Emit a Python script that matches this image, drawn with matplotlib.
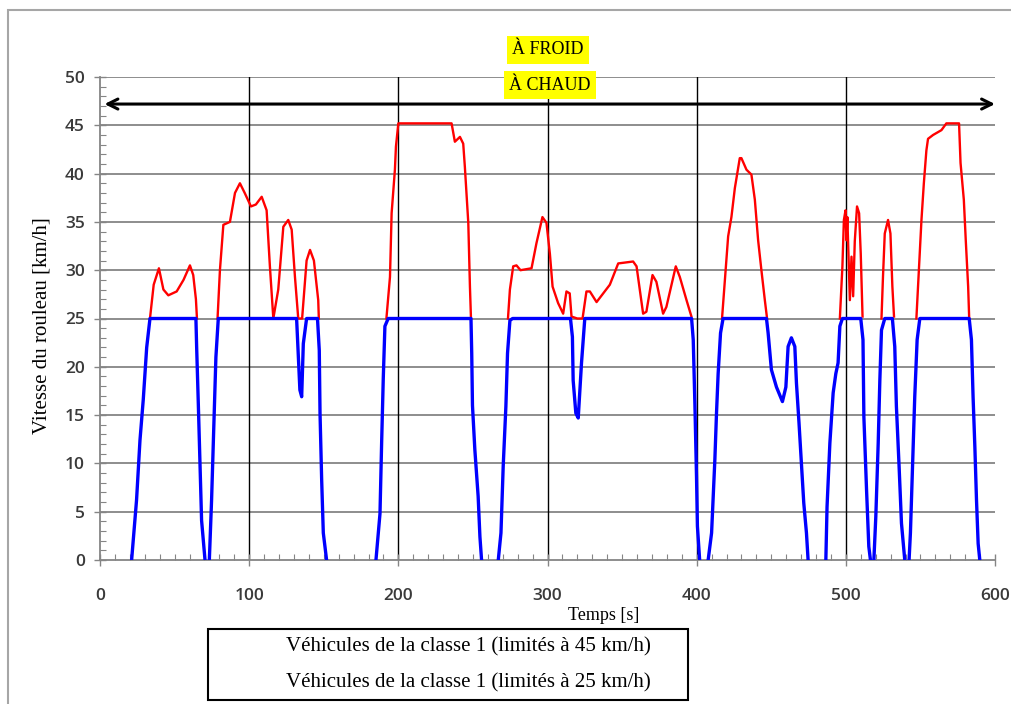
import numpy as np
import matplotlib.pyplot as plt
from matplotlib.patches import Rectangle
from matplotlib.ticker import MultipleLocator

nan = np.nan

# Class 1 vehicles limited to 45 km/h (only the part above 25 km/h is visible)
red_t = [33.5, 36.0, 39.5, 42.5, 45.8, 51.4, 56.0, 60.3, 62.5, 64.3, 65.0, nan,
         78.8, 80.4, 82.7, 87.1, 90.5, 93.8, 97.0, 101.2, 104.5, 108.4, 111.7, 113.9, 116.2,
         119.5, 122.9, 126.2, 128.5, 130.7, 132.9, 135.5, 138.5, 140.8, 143.4, 146.3, 146.7, nan,
         192.0, 194.4, 195.5, 197.7, 198.4, 200.0, 235.7, 237.9, 241.3, 243.5, 244.6,
         246.9, 248.0, 248.7, nan,
         273.5, 274.8, 277.0, 279.2, 281.9, 289.3, 292.6, 296.6, 299.3, 301.6, 303.4,
         307.1, 310.5, 312.7, 314.9, 316.1, 320.0, 323.5, 326.1, 328.4, 332.9, 341.8,
         347.4, 357.4, 359.7, 364.1, 366.3, 370.4, 373.0, 377.5, 379.7, 386.0, 388.7,
         393.2, 396.5, nan,
         417.0, 418.9, 421.1, 423.3, 425.6, 428.9, 430.0, 433.4, 436.7, 439.0, 441.2,
         443.4, 445.7, 447.2, nan,
         496.0, 497.7, 498.7, 499.8, 500.4, 501.0, 501.8, 502.7, 503.8, 504.9, 506.0,
         507.5, 508.9, 510.0, 511.2, nan,
         523.9, 524.9, 526.1, 528.3, 529.9, 531.2, 532.3, nan,
         547.3, 548.4, 550.7, 552.3, 554.0, 555.1, 558.5, 564.1, 567.4, 575.9, 576.9,
         579.1, 580.4, 582.0, 582.7]
red_v = [25.0, 28.5, 30.2, 28.0, 27.4, 27.8, 29.0, 30.5, 29.5, 27.0, 25.0, nan,
         25.0, 30.0, 34.7, 35.0, 38.0, 39.0, 38.0, 36.6, 36.8, 37.6, 36.2, 30.4, 25.0,
         28.0, 34.5, 35.2, 34.2, 29.3, 25.0, 25.0, 31.0, 32.1, 31.0, 26.9, 25.0, nan,
         25.0, 29.3, 35.9, 40.4, 42.8, 45.2, 45.2, 43.3, 43.8, 43.1, 40.7,
         34.9, 28.3, 25.0, nan,
         25.0, 28.0, 30.4, 30.5, 30.0, 30.2, 32.8, 35.5, 34.9, 31.7, 28.3,
         26.6, 25.5, 27.8, 27.6, 25.2, 25.0, 25.0, 27.8, 27.8, 26.7, 28.5,
         30.7, 30.9, 30.4, 25.5, 25.7, 29.5, 28.8, 25.5, 26.2, 30.4, 29.3,
         26.9, 25.2, nan,
         25.0, 29.0, 33.5, 35.5, 38.5, 41.6, 41.6, 40.4, 39.9, 37.3, 33.1,
         30.0, 26.9, 25.0, nan,
         25.0, 30.4, 35.2, 36.2, 33.1, 35.5, 31.4, 26.9, 31.4, 27.3, 33.0,
         36.6, 35.9, 31.7, 25.2, nan,
         25.0, 29.3, 33.8, 35.2, 33.8, 28.3, 25.2, nan,
         25.0, 28.3, 35.2, 39.0, 42.4, 43.6, 44.0, 44.5, 45.2, 45.2, 41.1,
         37.3, 33.1, 28.3, 25.0]

# Class 1 vehicles limited to 25 km/h (stops at 0 km/h are left out)
blue_t = [21.2, 24.5, 26.8, 29.0, 31.3, 33.5, 64.3, 64.8, 65.9, 67.0, 68.1, 70.4, nan,
          73.3, 74.8, 76.4, 77.7, 79.3, 131.8, 132.9, 134.0, 135.2, 136.3, 138.5, 145.8,
          147.0, 147.5, 148.6, 149.7, 151.9, nan,
          185.0, 187.7, 188.8, 189.9, 191.0, 193.2,
          248.7, 249.2, 249.7, 251.3, 253.5, 254.7, 255.8, nan,
          267.0, 268.8, 270.3, 272.1,
          273.2, 274.8, 276.6, 315.4, 316.7, 317.2, 319.0, 320.6, 322.8, 325.0, 396.6,
          397.7, 398.8, 399.9, 400.5, 402.0, nan,
          407.7, 410.0, 411.1, 412.2, 413.3, 414.4,
          416.0, 417.7, 446.8, 447.9, 450.1, 453.5, 457.5, 459.8, 461.3, 463.5, 465.8,
          466.9, 468.6, 470.2, 471.8, 473.6, 474.7, nan,
          486.6, 487.4, 489.3, 491.5, 493.3,
          494.8, 496.0, 497.7, 510.0, 511.5, 512.1, 513.9, 515.4, 516.5, nan,
          518.8, 520.1, 521.7, 522.8, 523.9, 526.1, 531.2, 532.8, 533.9, 535.7, 537.3,
          539.5, nan,
          542.4, 543.3, 544.7, 546.2, 547.8, 549.6, 582.7, 584.2, 585.3, 586.5, 587.6,
          588.7, 589.8]
blue_v = [0.0, 6.2, 12.4, 16.6, 22.0, 25.0, 25.0, 22.0, 16.2, 10.0, 4.1, 0.0, nan,
          0.0, 6.2, 14.2, 21.0, 25.0, 25.0, 21.4, 17.6, 16.9, 22.4, 25.0, 25.0,
          21.7, 15.2, 8.3, 2.8, 0.0, nan,
          0.0, 4.8, 12.1, 18.8, 24.2, 25.0,
          25.0, 21.4, 16.0, 11.4, 6.6, 2.4, 0.0, nan,
          0.0, 2.8, 9.7, 15.9,
          21.4, 24.8, 25.0, 25.0, 23.1, 18.6, 15.2, 14.7, 20.4, 25.0, 25.0,
          22.8, 16.2, 8.6, 3.5, 0.0, nan,
          0.0, 2.8, 6.6, 10.4, 15.2, 19.3,
          23.5, 25.0, 25.0, 23.5, 19.7, 17.9, 16.4, 17.9, 22.1, 23.0, 22.1,
          18.3, 14.2, 10.0, 5.9, 2.8, 0.0, nan,
          0.0, 5.5, 12.1, 17.3, 19.3,
          20.4, 24.2, 25.0, 25.0, 22.8, 14.8, 7.2, 1.4, 0.0, nan,
          0.0, 4.5, 12.1, 18.6, 23.8, 25.0, 25.0, 22.1, 15.9, 9.7, 3.8,
          0.0, nan,
          0.0, 2.8, 9.7, 16.9, 22.8, 25.0, 25.0, 22.8, 16.9, 11.7, 6.2,
          1.7, 0.0]

x_ticks = [0, 100, 200, 300, 400, 500, 600]
y_ticks = [0, 5, 10, 15, 20, 25, 30, 35, 40, 45, 50]
phase_lines = [100, 200, 300, 400, 500]
legend_labels = ['Véhicules de la classe 1 (limités à 45 km/h)',
                 'Véhicules de la classe 1 (limités à 25 km/h)']

SERIF = ['Liberation Serif', 'DejaVu Serif']
SANS = ['Open Sans', 'DejaVu Sans']

fig = plt.figure(figsize=(10.11, 7.04), dpi=100)
fig.patch.set_facecolor('white')

# outer chart border
fig.patches.append(Rectangle((8 / 1011, -0.01), 1.1, (704 - 10) / 704 + 0.01,
                             transform=fig.transFigure, fill=False,
                             edgecolor='#a6a6a6', linewidth=1.5))

ax = fig.add_axes([100 / 1011, (704 - 560) / 704, 895 / 1011, 483 / 704])
ax.set_xlim(0, 600)
ax.set_ylim(0, 50)

for y in y_ticks[1:]:
    ax.axhline(y, color='#858585', linewidth=1.3, zorder=1)
for x in phase_lines:
    ax.axvline(x, color='black', linewidth=1.0, zorder=1)

ax.plot(red_t, red_v, color='#ff0000', linewidth=1.7, zorder=3)
ax.plot(blue_t, blue_v, color='#0000ff', linewidth=2.4, zorder=4)

ax.annotate('', xy=(600, 47.2), xytext=(3, 47.2),
            arrowprops=dict(arrowstyle='<->', color='black', linewidth=2.2,
                            mutation_scale=18, shrinkA=0, shrinkB=0), zorder=5)

for s in ['top', 'right']:
    ax.spines[s].set_visible(False)
for s in ['left', 'bottom']:
    ax.spines[s].set_color('#858585')
    ax.spines[s].set_linewidth(1.3)

ax.set_xticks(x_ticks)
ax.set_yticks(y_ticks)
ax.xaxis.set_minor_locator(MultipleLocator(10))
ax.yaxis.set_minor_locator(MultipleLocator(1))
ax.tick_params(which='major', direction='inout', length=8, width=1.0,
               color='#858585', labelcolor='#3a3a3a', labelsize=12.5)
ax.tick_params(which='minor', direction='in', length=4, width=0.8, color='#858585')
ax.tick_params(axis='x', pad=16)
ax.tick_params(axis='y', pad=7)
for lab in ax.get_xticklabels() + ax.get_yticklabels():
    lab.set_family(SANS)
    lab.set_fontweight('semibold')

fig.text(42 / 1011, 1 - 326 / 704, 'Vitesse du rouleau [km/h]', family=SERIF,
         fontsize=15, rotation=90, ha='center', va='center')
fig.text(604 / 1011, 1 - 616 / 704, 'Temps [s]', family=SERIF, fontsize=13,
         ha='center', va='center')

# phase labels
fig.text(548 / 1011, 1 - 50 / 704, 'À FROID', family=SERIF, fontsize=13,
         ha='center', va='center',
         bbox=dict(facecolor='#ffff00', edgecolor='none', pad=4))
fig.text(550 / 1011, 1 - 85 / 704, 'À CHAUD', family=SERIF, fontsize=13,
         ha='center', va='center',
         bbox=dict(facecolor='#ffff00', edgecolor='none', pad=4))

# legend box (text only)
fig.patches.append(Rectangle((208 / 1011, 1 - 700 / 704), 480 / 1011, 71 / 704,
                             transform=fig.transFigure, fill=True, facecolor='white',
                             edgecolor='black', linewidth=1.5))
fig.text(468 / 1011, 1 - 647 / 704, legend_labels[0], family=SERIF, fontsize=15,
         ha='center', va='center')
fig.text(468 / 1011, 1 - 683 / 704, legend_labels[1], family=SERIF, fontsize=15,
         ha='center', va='center')

fig.savefig('out.png', dpi=100)
